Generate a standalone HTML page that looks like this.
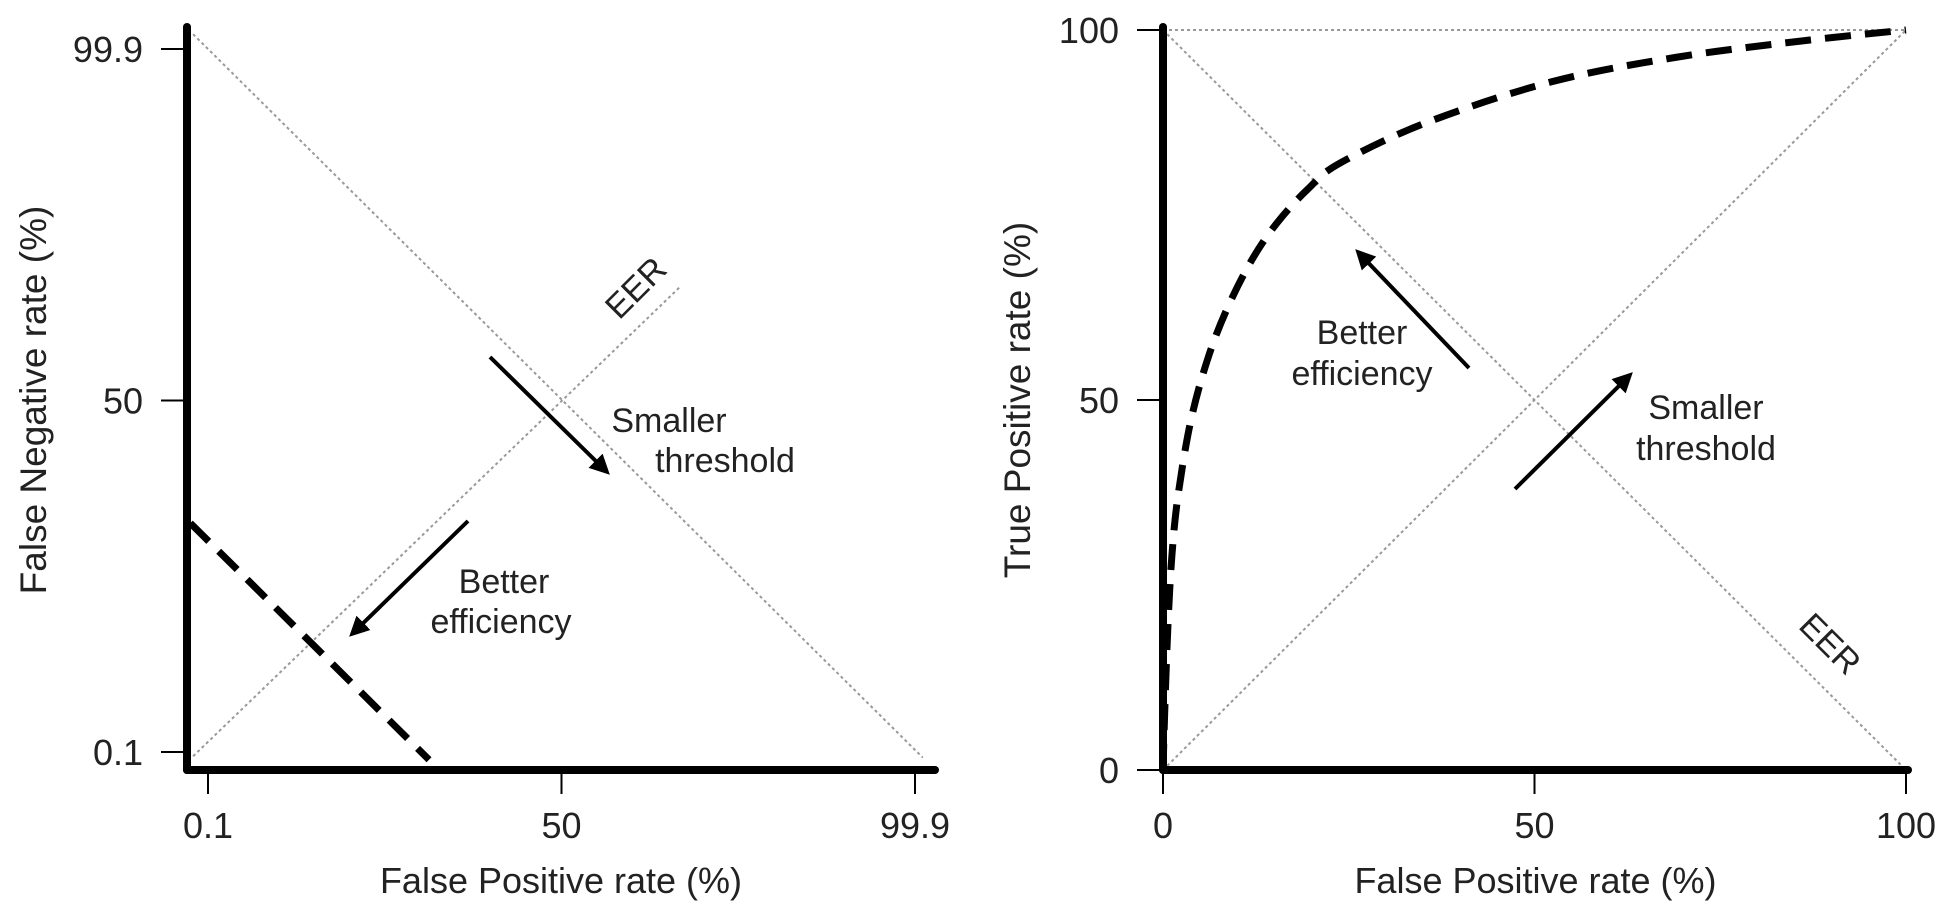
<!DOCTYPE html>
<html><head><meta charset="utf-8"><style>
html,body{margin:0;padding:0;background:#fff;}
svg{display:block;font-family:"Liberation Sans",Arial,sans-serif;}
</style></head><body>
<svg id="fig" width="1940" height="912" viewBox="0 0 1940 912" xmlns="http://www.w3.org/2000/svg">
<defs><marker id="ah" viewBox="0 0 10 10" refX="8" refY="5" markerWidth="5" markerHeight="5" orient="auto"><path d="M0,0 L10,5 L0,10 z" fill="#000"/></marker></defs>
<g id="left"></g>
<g id="right"></g>
</svg>
<script>
// ---- Left (DET) data ----
const detTicks = [0.1, 50, 99.9];
const detTickLabels = ["0.1", "50", "99.9"];
const detCurveX = [-2.4, 31.3];
const detCurveY = [32.6, -1.0];
const detEerX = [-2, 66.7];
const detEerY = [-0.5, 66.1];
const detAntiX = [-2, 101];
const detAntiY = [102, -0.7];
// ---- Right (ROC) data ----
const rocTicks = [0, 50, 100];
const rocTickLabels = ["0", "50", "100"];
const rocX = [0, 0.3, 0.7, 1.2, 2, 3.7, 6, 8.7, 12, 15.4, 19.5, 23.8, 35.5, 52.3, 69, 85.8, 100];
const rocY = [0, 10, 20.3, 29, 36.9, 47, 55.5, 62.5, 69, 74, 78.5, 82, 87.5, 93, 96.3, 98.5, 100];

const NS = "http://www.w3.org/2000/svg";
function mk(parent, tag, attrs, text){
  const e = document.createElementNS(NS, tag);
  for (const k in attrs) e.setAttribute(k, attrs[k]);
  if (text !== undefined) e.textContent = text;
  parent.appendChild(e); return e;
}
function lin(d0,d1,r0,r1){return v => r0 + (v-d0)/(d1-d0)*(r1-r0);}

const lx = lin(0.1, 99.9, 208, 915);
const ly = lin(0.1, 99.9, 752, 49);
const rx = lin(0, 100, 1163, 1906);
const ry = lin(0, 100, 770, 30);

function smoothPath(pts){
  let d = 'M' + pts[0][0] + ',' + pts[0][1];
  for (let i=0;i<pts.length-1;i++){
    const p0 = pts[Math.max(0,i-1)], p1 = pts[i], p2 = pts[i+1], p3 = pts[Math.min(pts.length-1,i+2)];
    const c1x = p1[0] + (p2[0]-p0[0])/6, c1y = p1[1] + (p2[1]-p0[1])/6;
    const c2x = p2[0] - (p3[0]-p1[0])/6, c2y = p2[1] - (p3[1]-p1[1])/6;
    d += ` C${c1x},${c1y} ${c2x},${c2y} ${p2[0]},${p2[1]}`;
  }
  return d;
}

function drawPanel(g, sx, sy, ticks, labels, axX, axY, axTop, axRight, xTitle, yTitle, yTitleX){
  let e;
  ticks.forEach((t,i)=>{
    e = mk(g,'line',{x1:sx(t),x2:sx(t),y1:axY,y2:axY+24,stroke:'#000','stroke-width':2});
     
    e = mk(g,'text',{x:sx(t),y:axY+68,'font-size':36,'text-anchor':'middle',fill:'#222'},labels[i]);
     
    e = mk(g,'line',{x1:axX-26,x2:axX,y1:sy(t),y2:sy(t),stroke:'#000','stroke-width':2});
     
    e = mk(g,'text',{x:axX-44,y:sy(t)+13,'font-size':36,'text-anchor':'end',fill:'#222'},labels[i]);
     
  });
  e = mk(g,'line',{x1:axX,x2:axX,y1:axTop,y2:axY,stroke:'#000','stroke-width':8,'stroke-linecap':'round'});
   
  e = mk(g,'line',{x1:axX,x2:axRight,y1:axY,y2:axY,stroke:'#000','stroke-width':8,'stroke-linecap':'round'});
   
  e = mk(g,'text',{x:(axX+axRight)/2,y:893,'font-size':36,'text-anchor':'middle',fill:'#222'},xTitle);
   
  e = mk(g,'text',{x:yTitleX,y:400,'font-size':37,'text-anchor':'middle',fill:'#222',transform:`rotate(-90 ${yTitleX} 400)`},yTitle);
   
}
function dotted(g, x1,y1,x2,y2,name){
  const e = mk(g,'line',{x1,y1,x2,y2,stroke:'#999','stroke-width':2,'stroke-dasharray':'3 3'});
   
}
function arrow(g,x1,y1,x2,y2,name){
  const e = mk(g,'line',{x1,y1,x2,y2,stroke:'#000','stroke-width':4,'marker-end':'url(#ah)'});
   
}
function label(g,x,y,txt,name,rot){
  const a = {x,y,'font-size':34,'text-anchor':'middle',fill:'#222'};
  if (rot!==undefined) a.transform = `rotate(${rot} ${x} ${y})`;
  const e = mk(g,'text',a,txt);
   
}

// ---- Left panel ----
const L = document.getElementById('left');
dotted(L, lx(detAntiX[0]), ly(detAntiY[0]), lx(detAntiX[1]), ly(detAntiY[1]), 'chance-diagonal');
dotted(L, lx(detEerX[0]), ly(detEerY[0]), lx(detEerX[1]), ly(detEerY[1]), 'eer-line');
drawPanel(L, lx, ly, detTicks, detTickLabels, 187, 770, 27, 935, 'False Positive rate (%)', 'False Negative rate (%)', 46);
let p = mk(L,'path',{d:'M'+detCurveX.map((x,i)=>lx(x)+','+ly(detCurveY[i])).join(' L'),fill:'none',stroke:'#000','stroke-width':7,'stroke-dasharray':'26 14'});
 
arrow(L, 490, 357, 607, 472, 'smaller-threshold-arrow');
arrow(L, 468, 521, 352, 634, 'better-efficiency-arrow');
label(L, 669, 432, 'Smaller', 'smaller-label');
label(L, 725, 472, 'threshold', 'threshold-label');
label(L, 504, 593, 'Better', 'better-label');
label(L, 501, 633, 'efficiency', 'efficiency-label');
label(L, 644, 296, 'EER', 'eer-label', -45);

// ---- Right panel ----
const R = document.getElementById('right');
dotted(R, rx(0), ry(100), rx(100), ry(100), 'top-border-line');
dotted(R, rx(0), ry(100), rx(100), ry(0), 'eer-line');
dotted(R, rx(0), ry(0), rx(100), ry(100), 'chance-diagonal');
drawPanel(R, rx, ry, rocTicks, rocTickLabels, 1163, 770, 27, 1908, 'False Positive rate (%)', 'True Positive rate (%)', 1030);
p = mk(R,'path',{d:smoothPath(rocX.map((x,i)=>[rx(x), ry(rocY[i])])),fill:'none',stroke:'#000','stroke-width':7,'stroke-dasharray':'26 14','stroke-linejoin':'round'});
 
arrow(R, 1469, 368, 1358, 252, 'better-efficiency-arrow');
arrow(R, 1515, 489, 1630, 375, 'smaller-threshold-arrow');
label(R, 1362, 344, 'Better', 'better-label');
label(R, 1362, 385, 'efficiency', 'efficiency-label');
label(R, 1706, 419, 'Smaller', 'smaller-label');
label(R, 1706, 460, 'threshold', 'threshold-label');
label(R, 1822, 652, 'EER', 'eer-label', 45);
</script>
</body></html>
